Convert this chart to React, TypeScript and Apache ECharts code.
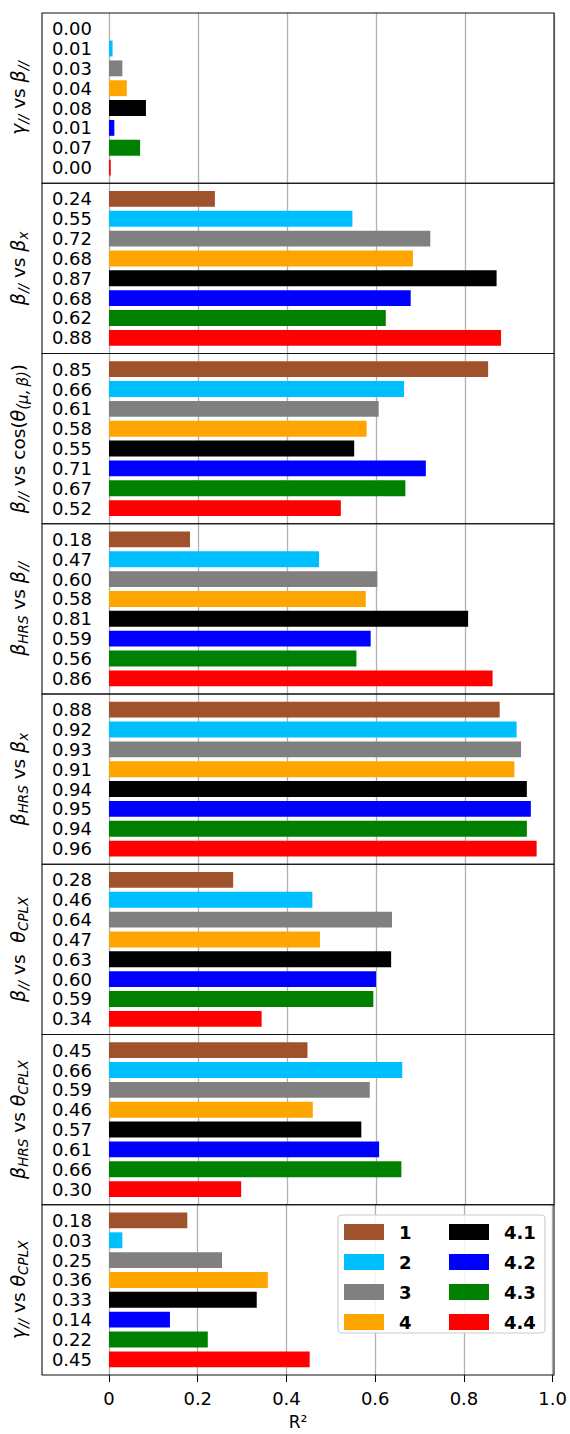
import React, { useEffect, useRef } from "react";
import * as echarts from "echarts";

// ---------------- data ----------------
const SERIES_NAMES = ["1", "2", "3", "4", "4.1", "4.2", "4.3", "4.4"];
const SERIES_COLORS = ["#a0522d", "#00bfff", "#808080", "#ffa500", "#000000", "#0000ff", "#008000", "#ff0000"];

const gammaPar_vs_betaPar = [0.0, 0.008, 0.03, 0.04, 0.083, 0.012, 0.07, 0.004];
const betaPar_vs_betaX = [0.238, 0.547, 0.722, 0.683, 0.871, 0.678, 0.622, 0.881];
const betaPar_vs_cosTheta = [0.852, 0.663, 0.606, 0.579, 0.551, 0.712, 0.666, 0.521];
const betaHRS_vs_betaPar = [0.182, 0.472, 0.603, 0.577, 0.807, 0.588, 0.556, 0.862];
const betaHRS_vs_betaX = [0.878, 0.916, 0.926, 0.911, 0.939, 0.948, 0.939, 0.961];
const betaPar_vs_thetaCPLX = [0.279, 0.457, 0.636, 0.474, 0.634, 0.6, 0.594, 0.343];
const betaHRS_vs_thetaCPLX = [0.446, 0.659, 0.586, 0.458, 0.567, 0.607, 0.657, 0.297];
const gammaPar_vs_thetaCPLX = [0.176, 0.03, 0.254, 0.357, 0.332, 0.137, 0.222, 0.451];

const PANEL_VALUES = [
  gammaPar_vs_betaPar,
  betaPar_vs_betaX,
  betaPar_vs_cosTheta,
  betaHRS_vs_betaPar,
  betaHRS_vs_betaX,
  betaPar_vs_thetaCPLX,
  betaHRS_vs_thetaCPLX,
  gammaPar_vs_thetaCPLX,
];

const PANEL_TITLES = [
  "{g|γ}{s|//}{n| vs }{g|β}{s|//}",
  "{g|β}{s|//}{n| vs }{g|β}{s|x}",
  "{g|β}{s|//}{n| vs cos(}{g|θ}{p|(μ,\u2009β)}{n|)}",
  "{g|β}{s|HRS}{n| vs }{g|β}{s|//}",
  "{g|β}{s|HRS}{n| vs }{g|β}{s|x}",
  "{g|β}{s|//}{n| vs  }{g|θ}{s|CPLX}",
  "{g|β}{s|HRS}{n| vs }{g|θ}{s|CPLX}",
  "{g|γ}{s|//}{n| vs }{g|θ}{s|CPLX}",
];

const X_TICKS_MIN = 0;
const X_TICKS_MAX = 1;
const X_TICK_STEP = 0.2;
const X_NAME = "R²";

// ---------------- layout ----------------
const W = 570;
const H = 1434;
const TOP = 13;
const PANEL_H = 170.25;
const BOX_LEFT = 42;
const PLOT_LEFT = 109;
const PLOT_RIGHT = 554;
const UNIT = PANEL_H / 8.58;
const FONT = "DejaVu Sans";

function buildOption() {
  const grid: any[] = [];
  const xAxis: any[] = [];
  const yAxis: any[] = [];
  const series: any[] = [];
  const elements: any[] = [];

  const rich = {
    g: { fontStyle: "italic", fontSize: 19, fontFamily: FONT, lineHeight: 24, color: "#000" },
    n: { fontSize: 18.5, fontFamily: FONT, lineHeight: 24, color: "#000" },
    s: { fontStyle: "italic", fontSize: 13.5, fontFamily: FONT, lineHeight: 15, verticalAlign: "bottom", color: "#000" },
    p: { fontStyle: "italic", fontSize: 15, fontFamily: FONT, lineHeight: 16, verticalAlign: "bottom", color: "#000" },
  };

  PANEL_VALUES.forEach((vals, p) => {
    const top = TOP + p * PANEL_H;
    const last = p === PANEL_VALUES.length - 1;
    grid.push({ left: PLOT_LEFT, top, width: PLOT_RIGHT - PLOT_LEFT, height: PANEL_H });
    grid.push({
      left: PLOT_LEFT,
      top: top + (0.79 - 0.5) * UNIT,
      width: PLOT_RIGHT - PLOT_LEFT,
      height: 8 * UNIT,
    });
    xAxis.push({
      gridIndex: 2 * p,
      type: "value",
      min: X_TICKS_MIN,
      max: X_TICKS_MAX,
      interval: X_TICK_STEP,
      axisLine: { show: false },
      axisTick: { show: last, length: 7, lineStyle: { color: "#000", width: 1 } },
      axisLabel: {
        show: last,
        fontSize: 18,
        fontFamily: FONT,
        color: "#000",
        margin: 14,
        formatter: (v: number) => (v === 0 ? "0" : v.toFixed(1)),
      },
      splitLine: { show: true, lineStyle: { color: "#b0b0b0", width: 1.3 } },
    });
    xAxis.push({ gridIndex: 2 * p + 1, type: "value", min: X_TICKS_MIN, max: X_TICKS_MAX, show: false });
    yAxis.push({ gridIndex: 2 * p, type: "value", show: false });
    const labels = vals.map((v) => v.toFixed(2));
    yAxis.push({
      gridIndex: 2 * p + 1,
      type: "category",
      inverse: true,
      data: SERIES_NAMES.map((_, i) => String(i)),
      axisLine: { show: false },
      axisTick: { show: false },
      splitLine: { show: false },
      axisLabel: {
        interval: 0,
        fontSize: 18,
        fontFamily: FONT,
        color: "#000",
        margin: 17,
        formatter: (_v: string, i: number) => labels[i],
      },
    });
    SERIES_NAMES.forEach((name, c) => {
      const data: any[] = SERIES_NAMES.map(() => "-");
      data[c] = vals[c];
      series.push({
        type: "bar",
        name,
        xAxisIndex: 2 * p + 1,
        yAxisIndex: 2 * p + 1,
        barWidth: 0.8 * UNIT,
        barGap: "-100%",
        itemStyle: { color: SERIES_COLORS[c] },
        data,
      });
    });
    elements.push({
      type: "rect",
      shape: { x: BOX_LEFT, y: top, width: PLOT_RIGHT - BOX_LEFT, height: PANEL_H },
      style: { fill: "none", stroke: "#111", lineWidth: 1.1 },
      z: 10,
      silent: true,
    });
    elements.push({
      type: "text",
      x: 18,
      y: top + PANEL_H / 2,
      rotation: Math.PI / 2,
      z: 10,
      style: {
        text: PANEL_TITLES[p],
        rich,
        fill: "#000",
        font: `18px "${FONT}"`,
        align: "center",
        verticalAlign: "middle",
        textAlign: "center",
        textVerticalAlign: "middle",
      },
    });
  });

  elements.push({
    type: "text",
    x: (BOX_LEFT + PLOT_RIGHT) / 2,
    y: 1422,
    z: 10,
    style: {
      text: X_NAME,
      fill: "#000",
      font: `17px "${FONT}"`,
      align: "center",
      verticalAlign: "middle",
      textAlign: "center",
      textVerticalAlign: "middle",
    },
  });
  elements.push({
    type: "rect",
    shape: { x: 338, y: 1215, width: 207, height: 118, r: 4 },
    style: { fill: "rgba(255,255,255,0.85)", stroke: "#cccccc", lineWidth: 1.2 },
    z: 15,
    silent: true,
  });

  const legendBase = {
    orient: "vertical",
    top: 1223,
    itemWidth: 40,
    itemHeight: 16,
    itemGap: 12,
    icon: "rect",
    padding: 0,
    z: 20,
    selectedMode: false,
    textStyle: {
      fontSize: 18,
      fontWeight: "bold",
      fontFamily: FONT,
      color: "#000",
      lineHeight: 16,
      padding: [0, 0, 0, 10],
    },
  };

  return {
    animation: false,
    backgroundColor: "#fff",
    grid,
    xAxis,
    yAxis,
    series,
    legend: [
      { ...legendBase, left: 344, data: SERIES_NAMES.slice(0, 4) },
      { ...legendBase, left: 449, data: SERIES_NAMES.slice(4) },
    ],
    graphic: { elements },
  };
}

export default function App() {
  const ref = useRef<HTMLDivElement>(null);
  useEffect(() => {
    if (!ref.current) return;
    const chart = echarts.init(ref.current, undefined, { renderer: "svg" });
    chart.setOption(buildOption() as any);
    return () => chart.dispose();
  }, []);
  return (
    <div
      ref={ref}
      style={{ position: "absolute", left: 0, top: 0, width: W, height: H, background: "#fff" }}
    />
  );
}
